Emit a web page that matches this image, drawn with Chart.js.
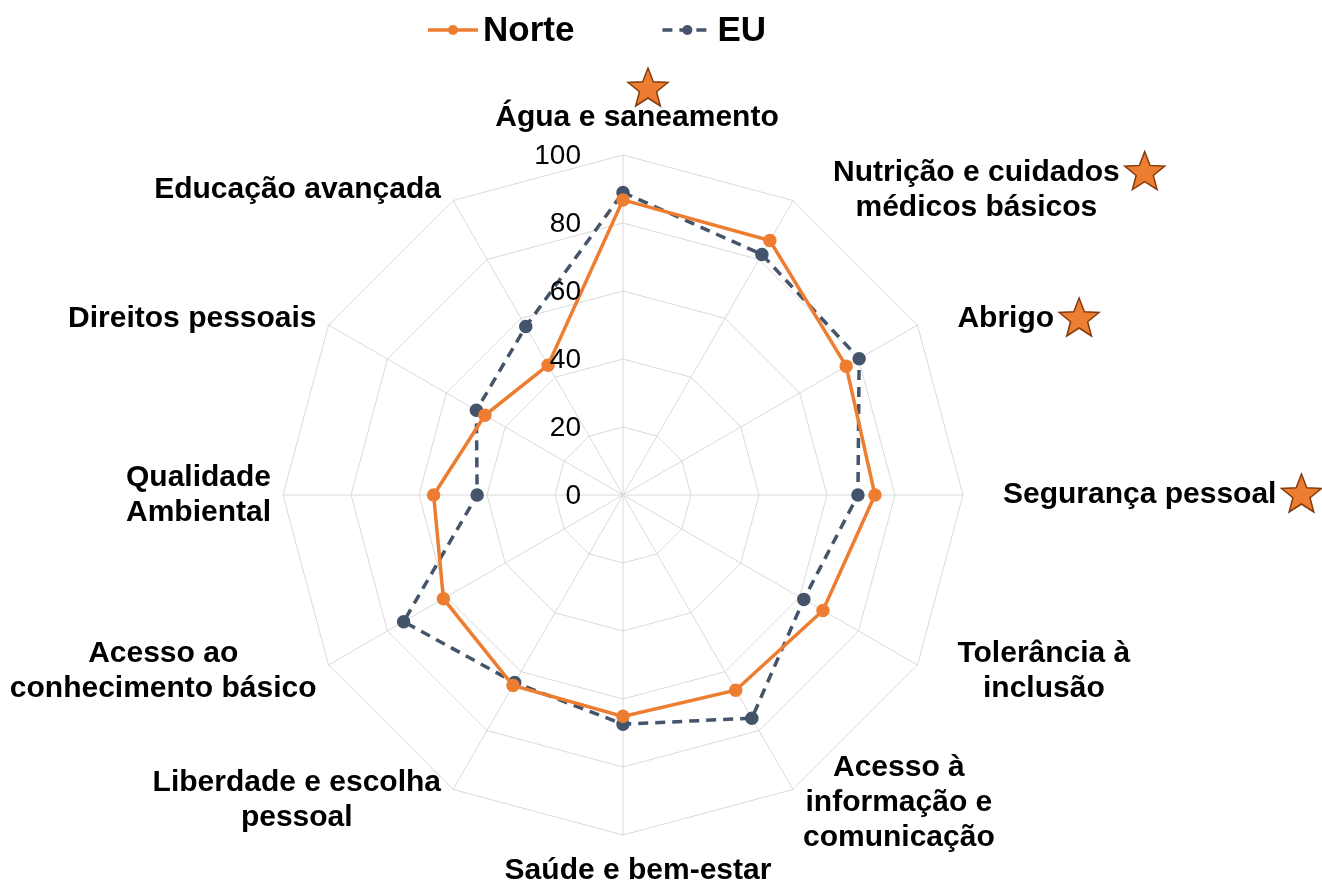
<!DOCTYPE html>
<html>
<head>
<meta charset="utf-8">
<script src="https://cdn.jsdelivr.net/npm/chart.js@4.4.1/dist/chart.umd.min.js"></script>
<style>
  body { margin: 0; background: #fff; }
  canvas { display: block; }
</style>
</head>
<body>
<canvas id="chart" width="1322" height="885"></canvas>
<script>
var categories = [
  "Água e saneamento",
  ["Nutrição e cuidados", "médicos básicos"],
  "Abrigo",
  "Segurança pessoal",
  ["Tolerância à", "inclusão"],
  ["Acesso à", "informação e", "comunicação"],
  "Saúde e bem-estar",
  ["Liberdade e escolha", "pessoal"],
  ["Acesso ao", "conhecimento básico"],
  ["Qualidade", "Ambiental"],
  "Direitos pessoais",
  "Educação avançada"
];
var norteValues = [86.8, 86.4, 75.8, 74.1, 67.9, 66.3, 65.1, 64.7, 61.0, 55.7, 46.9, 44.1];
var euValues = [89.0, 81.7, 80.2, 69.1, 61.4, 75.8, 67.4, 63.7, 74.5, 42.9, 49.8, 57.2];
var tickValues = [0, 20, 40, 60, 80, 100];
var starred = [0, 1, 2, 3];

var FONT = "'Liberation Sans', Arial, Helvetica, sans-serif";
var ORANGE = "#ED7D31";
var SLATE = "#44546A";

function drawStar(ctx, cx, cy, outer, inner) {
  ctx.save();
  ctx.beginPath();
  for (var k = 0; k < 10; k++) {
    var r = k % 2 === 0 ? outer : inner;
    var a = -Math.PI / 2 + k * Math.PI / 5;
    var px = cx + r * Math.cos(a);
    var py = cy + r * Math.sin(a);
    if (k === 0) ctx.moveTo(px, py); else ctx.lineTo(px, py);
  }
  ctx.closePath();
  ctx.fillStyle = ORANGE;
  ctx.fill();
  ctx.lineWidth = 1.5;
  ctx.strokeStyle = "#843C0C";
  ctx.stroke();
  ctx.restore();
}

// axis labels placed roughly the way the spreadsheet did it: centered blocks beside each spoke
var labelPlugin = {
  id: "labelPlugin",
  afterDraw: function (chart) {
    var ctx = chart.ctx;
    var scale = chart.scales.r;
    var lineH = 35;
    ctx.save();
    ctx.font = "bold 30px " + FONT;
    ctx.fillStyle = "#000";
    ctx.textBaseline = "middle";
    ctx.textAlign = "center";
    chart.data.labels.forEach(function (label, i) {
      var lines = Array.isArray(label) ? label : [label];
      var widths = lines.map(function (l) { return ctx.measureText(l).width; });
      var w = Math.max.apply(null, widths);
      var h = lines.length * lineH;
      var deg = i * 360 / chart.data.labels.length;
      var tip = scale.getPointPosition(i, scale.drawingArea);
      var off = scale.getPointPosition(i, scale.drawingArea + 12);
      var cx, cy;
      if (deg === 0) {
        cx = tip.x + 14;
        cy = tip.y - 20 - h / 2;
      } else if (deg === 180) {
        cx = tip.x + 15;
        cy = tip.y + 18 + h / 2;
      } else if (deg < 180) {
        // lower right labels sit closer to their spoke
        var gapR = deg > 120 ? 10 : 40;
        cx = tip.x + gapR + w / 2;
        cy = off.y + (deg > 120 ? 3 : 0);
      } else {
        cx = tip.x - 12 - w / 2;
        cy = off.y;
      }
      var top = cy - h / 2;
      lines.forEach(function (l, j) {
        ctx.fillText(l, cx, top + lineH * (j + 0.5));
      });
      if (starred.indexOf(i) >= 0) {
        if (deg === 0) {
          drawStar(ctx, cx + 11, top - 11, 21, 9);
        } else {
          drawStar(ctx, cx + widths[0] / 2 + 25, top + lineH / 2, 21, 9);
        }
      }
    });

    // radial tick labels, right aligned left of the vertical spoke
    ctx.font = "28px " + FONT;
    ctx.textAlign = "right";
    tickValues.forEach(function (v) {
      var y = scale.yCenter - scale.getDistanceFromCenterForValue(v);
      ctx.fillText(String(v), scale.xCenter - 42, y + 1);
    });
    ctx.restore();
  }
};

// legend: line with marker, then bold name
var legendPlugin = {
  id: "legendPlugin",
  afterDraw: function (chart) {
    var ctx = chart.ctx;
    var sets = chart.data.datasets;
    var y = 30;
    ctx.save();
    ctx.font = "bold 35px " + FONT;
    ctx.textBaseline = "middle";
    var lineW = 50, gap = 5, spacing = 88;
    var total = 0;
    sets.forEach(function (ds, i) {
      total += lineW + gap + ctx.measureText(ds.label).width;
      if (i > 0) total += spacing;
    });
    var x = 597 - total / 2;
    sets.forEach(function (ds) {
      ctx.save();
      ctx.strokeStyle = ds.borderColor;
      ctx.lineWidth = ds.borderWidth;
      ctx.setLineDash(ds.borderDash || []);
      ctx.beginPath();
      ctx.moveTo(x, y);
      ctx.lineTo(x + lineW, y);
      ctx.stroke();
      ctx.restore();
      ctx.beginPath();
      ctx.arc(x + lineW / 2, y, ds.pointRadius, 0, Math.PI * 2);
      ctx.fillStyle = ds.borderColor;
      ctx.fill();
      ctx.fillStyle = "#000";
      ctx.fillText(ds.label, x + lineW + gap, y + 1);
      x += lineW + gap + ctx.measureText(ds.label).width + spacing;
    });
    ctx.restore();
  }
};

new Chart(document.getElementById("chart"), {
  type: "radar",
  data: {
    labels: categories,
    datasets: [
      {
        label: "Norte",
        data: norteValues,
        borderColor: ORANGE,
        backgroundColor: ORANGE,
        pointBackgroundColor: ORANGE,
        pointBorderColor: ORANGE,
        borderWidth: 3.5,
        pointRadius: 5,
        fill: false
      },
      {
        label: "EU",
        data: euValues,
        borderColor: SLATE,
        backgroundColor: SLATE,
        pointBackgroundColor: SLATE,
        pointBorderColor: SLATE,
        borderWidth: 3.5,
        borderDash: [10, 7],
        pointRadius: 5,
        fill: false
      }
    ]
  },
  options: {
    responsive: false,
    animation: false,
    devicePixelRatio: 1,
    layout: { padding: { left: 283, right: 359, top: 155, bottom: 50 } },
    elements: { line: { tension: 0 } },
    plugins: {
      legend: { display: false },
      tooltip: { enabled: false }
    },
    scales: {
      r: {
        min: 0,
        max: 100,
        ticks: { display: false, stepSize: 20 },
        pointLabels: { display: false },
        grid: { color: "#D9D9D9", lineWidth: 1 },
        angleLines: { color: "#D9D9D9", lineWidth: 1 }
      }
    }
  },
  plugins: [labelPlugin, legendPlugin]
});
</script>
</body>
</html>
